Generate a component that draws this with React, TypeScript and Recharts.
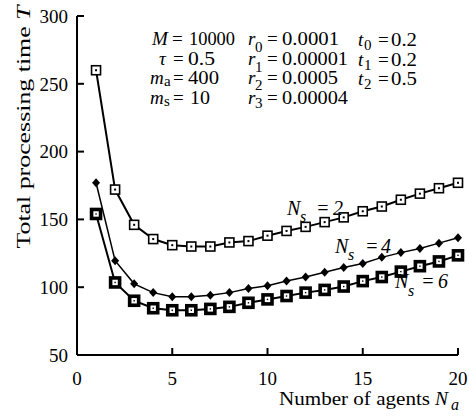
import { Line, LineChart, XAxis, YAxis } from "recharts";

const agents = [1, 2, 3, 4, 5, 6, 7, 8, 9, 10, 11, 12, 13, 14, 15, 16, 17, 18, 19, 20];
const ns2 = [260, 172, 146, 135.5, 131, 130, 130, 133, 134, 138, 141.5, 144.5, 148, 151.5, 156, 159.5, 164.5, 169, 173, 177];
const ns4 = [177, 119.5, 102.5, 96, 93, 93, 94, 96, 99, 101, 104.5, 107.5, 111, 114.5, 117.5, 122, 125.5, 128.5, 132.5, 136.5];
const ns6 = [154, 103.5, 90, 84.5, 83, 83, 84, 85.5, 88.5, 91, 93.5, 96, 98, 100.5, 104.5, 107.5, 111.5, 115.5, 119, 123.5];
const xTicks = [0, 5, 10, 15, 20];
const yTicks = [50, 100, 150, 200, 250, 300];

const data = agents.map((n, i) => ({ n, ns2: ns2[i], ns4: ns4[i], ns6: ns6[i] }));

const serif = "Liberation Serif";
const tickStyle = { fontSize: 19, fill: "#000", style: { fontFamily: serif } };

const OpenSquare = (p: any) => (
  <g key={`a${p.index}`}>
    <rect x={p.cx - 4.5} y={p.cy - 4.5} width={9} height={9} fill="#fff" stroke="#000" strokeWidth={1.6} />
    <rect x={p.cx - 1} y={p.cy - 1} width={2} height={2} fill="#000" />
  </g>
);

const BoldSquare = (p: any) => (
  <g key={`c${p.index}`}>
    <rect x={p.cx - 4.5} y={p.cy - 4.5} width={9} height={9} fill="#fff" stroke="#000" strokeWidth={3.6} />
    <rect x={p.cx - 0.7} y={p.cy - 0.7} width={1.4} height={1.4} fill="#000" />
  </g>
);

const Diamond = (p: any) => (
  <path
    key={`b${p.index}`}
    d={`M${p.cx},${p.cy - 4.5} L${p.cx + 4},${p.cy} L${p.cx},${p.cy + 4.5} L${p.cx - 4},${p.cy} Z`}
    fill="#000"
  />
);

// one "x_s = value" line of the annotation text
type EqProps = {
  x: number; y: number; base: string; sub?: string; subX?: number; subDy?: number;
  eqX: number; valX: number; value: string; valW?: number; italic?: boolean; size?: number;
};
function Eq({ x, y, base, sub, subX, subDy = 7, eqX, valX, value, valW, italic, size = 19 }: EqProps) {
  return (
    <text y={y} fontSize={size} fill="#000" fontStyle={italic ? "italic" : "normal"}>
      <tspan x={x} fontStyle="italic">{base}</tspan>
      {sub ? <tspan x={subX} dy={subDy} fontSize={size - 4}>{sub}</tspan> : null}
      <tspan x={eqX} y={y}>=</tspan>
      <tspan x={valX} textLength={valW} lengthAdjust={valW ? "spacingAndGlyphs" : undefined}>{value}</tspan>
    </text>
  );
}

export default function App() {
  return (
    <div style={{ position: "absolute", left: 0, top: 0, width: 469, height: 417, background: "#fff", fontFamily: serif }}>
      <LineChart width={469} height={417} data={data} margin={{ top: 16, right: 11, left: 17, bottom: 32 }}>
        <XAxis
          dataKey="n"
          type="number"
          domain={[0, 20]}
          ticks={xTicks}
          height={30}
          tickSize={-7}
          tickMargin={24}
          tick={tickStyle}
          axisLine={{ stroke: "#000", strokeWidth: 2 }}
          tickLine={{ stroke: "#000", strokeWidth: 2 }}
        />
        <XAxis
          xAxisId="top"
          orientation="top"
          type="number"
          domain={[0, 20]}
          height={0}
          tick={false}
          tickLine={false}
          axisLine={{ stroke: "#000", strokeWidth: 2 }}
        />
        <YAxis
          type="number"
          domain={[50, 300]}
          ticks={yTicks}
          width={60}
          tickSize={-7}
          tickMargin={16}
          tick={tickStyle}
          axisLine={{ stroke: "#000", strokeWidth: 2 }}
          tickLine={{ stroke: "#000", strokeWidth: 2 }}
        />
        <YAxis
          yAxisId="right"
          orientation="right"
          type="number"
          domain={[50, 300]}
          width={0}
          tick={false}
          tickLine={false}
          axisLine={{ stroke: "#000", strokeWidth: 2 }}
        />
        <Line dataKey="ns2" stroke="#000" strokeWidth={2} dot={OpenSquare} isAnimationActive={false} />
        <Line dataKey="ns4" stroke="#000" strokeWidth={1.5} dot={Diamond} isAnimationActive={false} />
        <Line dataKey="ns6" stroke="#000" strokeWidth={2} dot={BoldSquare} isAnimationActive={false} />
      </LineChart>
      <svg width={469} height={417} style={{ position: "absolute", left: 0, top: 0, pointerEvents: "none", fontFamily: serif }}>
        <Eq x={152} y={45} base="M" eqX={172} valX={189} value="10000" valW={46} />
        <Eq x={159} y={64.5} base="τ" eqX={173} valX={188} value="0.5" valW={27} />
        <Eq x={150} y={84} base="m" sub="a" subX={164} subDy={2} eqX={173} valX={188} value="400" valW={31} />
        <Eq x={150} y={103.5} base="m" sub="s" subX={164} subDy={2} eqX={173} valX={190} value="10" valW={20} />
        <Eq x={248} y={45} base="r" sub="0" subX={255} subDy={7} eqX={267} valX={282} value="0.0001" valW={57} />
        <Eq x={248} y={64.5} base="r" sub="1" subX={255} subDy={7} eqX={267} valX={282} value="0.00001" valW={66} />
        <Eq x={248} y={84} base="r" sub="2" subX={255} subDy={6} eqX={267} valX={282} value="0.0005" valW={56} />
        <Eq x={248} y={103.5} base="r" sub="3" subX={255} subDy={4} eqX={267} valX={282} value="0.00004" valW={66} />
        <Eq x={358} y={46} base="t" sub="0" subX={364} subDy={4} eqX={378} valX={391} value="0.2" valW={26} />
        <Eq x={358} y={65.5} base="t" sub="1" subX={364} subDy={4} eqX={378} valX={391} value="0.2" valW={26} />
        <Eq x={358} y={85} base="t" sub="2" subX={364} subDy={4} eqX={378} valX={391} value="0.5" valW={26} />
        <Eq x={287} y={215} base="N" sub="s" subX={300} subDy={7} eqX={316} valX={333} value="2" italic size={20} />
        <Eq x={335} y={253} base="N" sub="s" subX={348} subDy={7} eqX={365} valX={381} value="4" italic size={20} />
        <Eq x={395} y={288} base="N" sub="s" subX={408} subDy={8} eqX={421} valX={438} value="6" italic size={20} />
        <text y={405} fontSize={19.5}>
          <tspan x={279} textLength={151} lengthAdjust="spacingAndGlyphs">Number of agents</tspan>
          <tspan x={435} fontStyle="italic">N</tspan>
          <tspan x={451} dy={5} fontSize={16} fontStyle="italic">a</tspan>
        </text>
        <text
          transform="translate(30,127) rotate(-90)"
          textAnchor="middle"
          fontSize={18}
          textLength={243}
          lengthAdjust="spacingAndGlyphs"
        >
          Total processing time <tspan fontStyle="italic">T</tspan>
        </text>
      </svg>
    </div>
  );
}
